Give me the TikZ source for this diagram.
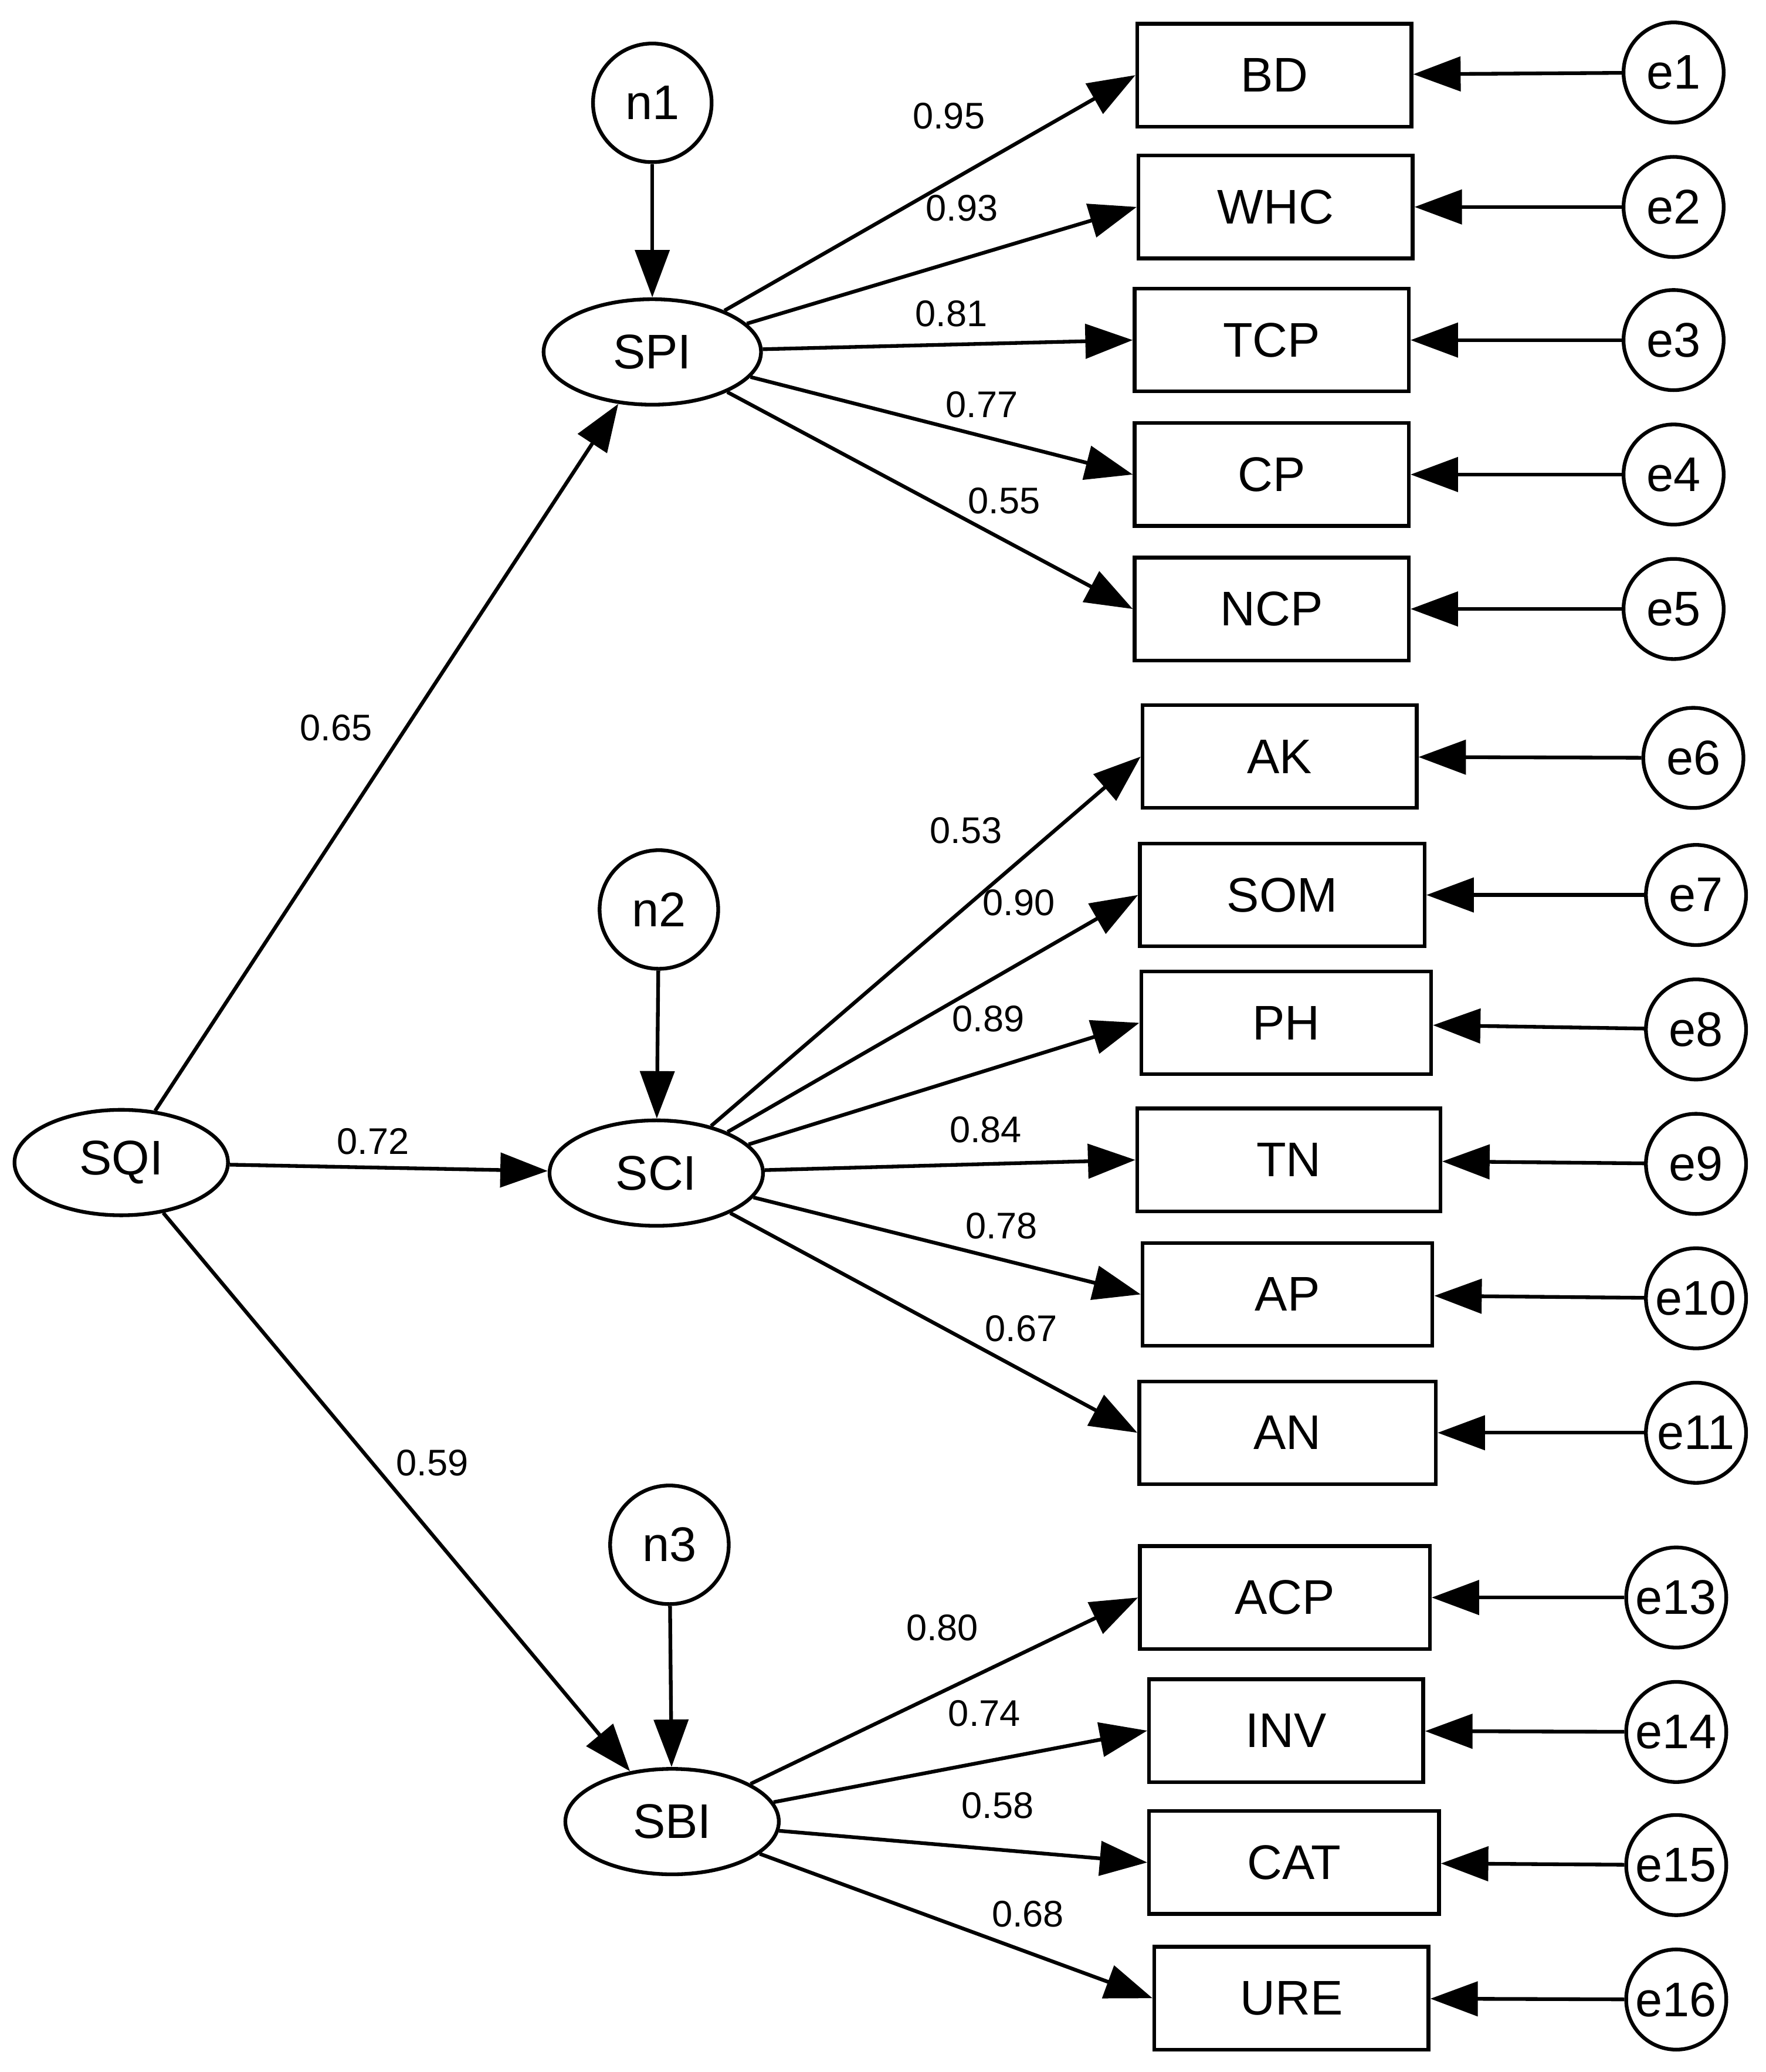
\documentclass[tikz,border=0pt]{standalone}
\usepackage{fontspec}
\setmainfont{Liberation Sans}
\usetikzlibrary{arrows.meta, shapes.geometric}
\begin{document}
\begin{tikzpicture}[>={Triangle[length=0.36cm,width=0.26cm]}, line width=0.8pt,
    lat/.style={draw, ellipse, minimum width=1.62cm, minimum height=0.8cm, font=\fontsize{10.5}{10.5}\selectfont},
    obs/.style={draw, rectangle, minimum width=2.08cm, minimum height=0.78cm, font=\fontsize{10.5}{10.5}\selectfont},
    err/.style={draw, circle, minimum size=0.76cm, inner sep=0pt, font=\fontsize{10.5}{10.5}\selectfont},
    dis/.style={draw, circle, minimum size=0.9cm, inner sep=0pt, font=\fontsize{10.5}{10.5}\selectfont},
    lbl/.style={font=\fontsize{8}{8}\selectfont}]
                \useasboundingbox (0,0) rectangle (13.4,-15.72);
                % Latent nodes
                \node[lat] at (0.92, -8.82) (sqi) {SQI};
                \node[lat, minimum width=1.65cm] at (4.95, -2.67) (spi) {SPI};
                \node[lat] at (4.98, -8.90) (sci) {SCI};
                \node[lat] at (5.10, -13.82) (sbi) {SBI};

                % Disturbances
                \node[dis] at (4.95, -0.78) (n1) {n1};
                \node[dis] at (5.00, -6.90) (n2) {n2};
                \node[dis] at (5.08, -11.72) (n3) {n3};

                % Indicators
                \node[obs] at (9.67, -0.57) (bd) {BD};
                \node[obs] at (9.68, -1.57) (whc) {WHC};
                \node[obs] at (9.65, -2.58) (tcp) {TCP};
                \node[obs] at (9.65, -3.60) (cp) {CP};
                \node[obs] at (9.65, -4.62) (ncp) {NCP};
                \node[obs] at (9.71, -5.74) (ak) {AK};
                \node[obs, minimum width=2.16cm] at (9.73, -6.79) (som) {SOM};
                \node[obs, minimum width=2.2cm] at (9.76, -7.76) (ph) {PH};
                \node[obs, minimum width=2.3cm] at (9.78, -8.80) (tn) {TN};
                \node[obs, minimum width=2.2cm] at (9.77, -9.82) (ap) {AP};
                \node[obs, minimum width=2.25cm] at (9.77, -10.87) (an) {AN};
                \node[obs, minimum width=2.2cm] at (9.75, -12.12) (acp) {ACP};
                \node[obs] at (9.76, -13.13) (inv) {INV};
                \node[obs, minimum width=2.2cm] at (9.82, -14.13) (cat) {CAT};
                \node[obs] at (9.80, -15.16) (ure) {URE};

                % Errors
                \foreach \n/\x/\y in {1/12.70/0.55, 2/12.70/1.57, 3/12.70/2.58, 4/12.70/3.60, 5/12.70/4.62,
                    6/12.85/5.75, 7/12.87/6.79, 8/12.87/7.81, 9/12.87/8.83, 10/12.87/9.85, 11/12.87/10.87,
                    13/12.72/12.12, 14/12.72/13.14, 15/12.72/14.15, 16/12.72/15.17}
                    \node[err] at (\x, -\y) (e\n) {e\n};

                % Structural paths
                \draw[->] (sqi) -- (spi);
                \draw[->] (sqi) -- (sci);
                \draw[->] (sqi) -- (sbi);
                \draw[->] (n1) -- (spi);
                \draw[->] (n2) -- (sci);
                \draw[->] (n3) -- (sbi);

                % Loadings
                \foreach \s/\m in {spi/bd, spi/whc, spi/tcp, spi/cp, spi/ncp,
                    sci/ak, sci/som, sci/ph, sci/tn, sci/ap, sci/an,
                    sbi/acp, sbi/inv, sbi/cat, sbi/ure}
                    \draw[->] (\s) -- (\m.west);

                % Coefficients
                \foreach \v/\x/\y in {0.65/2.55/5.52, 0.72/2.83/8.66, 0.59/3.28/11.10,
                    0.95/7.20/0.88, 0.93/7.30/1.58, 0.81/7.22/2.38, 0.77/7.45/3.07, 0.55/7.62/3.80,
                    0.53/7.33/6.30, 0.90/7.73/6.85, 0.89/7.50/7.73, 0.84/7.48/8.57, 0.78/7.60/9.30, 0.67/7.75/10.08,
                    0.80/7.15/12.35, 0.74/7.47/13.00, 0.58/7.57/13.70, 0.68/7.80/14.52}
                    \node[lbl] at (\x, -\y) {\v};

                % Error arrows
                \foreach \n/\m in {1/bd, 2/whc, 3/tcp, 4/cp, 5/ncp, 6/ak, 7/som, 8/ph, 9/tn,
                    10/ap, 11/an, 13/acp, 14/inv, 15/cat, 16/ure}
                    \draw[->] (e\n) -- (\m);
            \end{tikzpicture}
\end{document}
